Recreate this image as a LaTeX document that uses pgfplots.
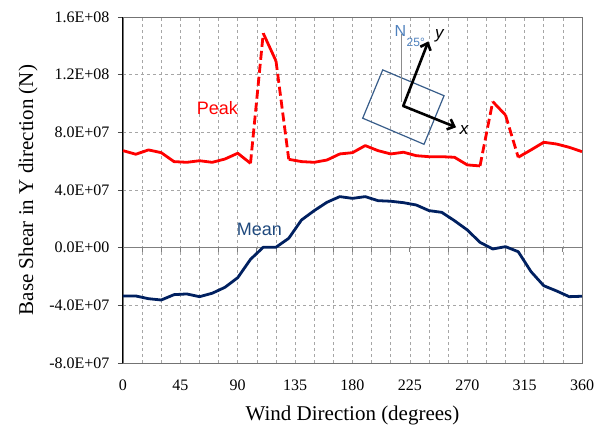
\documentclass[border=0pt]{standalone}
\usepackage{fontspec}
\setmainfont{Liberation Serif}
\newfontfamily\arial{Liberation Sans}
\usepackage{pgfplots}
\pgfplotsset{compat=1.18}
\usepackage{pgfplotstable}
\usetikzlibrary{arrows.meta}

\definecolor{peakred}{RGB}{255,0,0}
\definecolor{meannavy}{RGB}{0,32,96}
\definecolor{meantext}{RGB}{31,73,125}
\definecolor{insetblue}{RGB}{79,129,189}
\definecolor{rectblue}{RGB}{56,93,138}

% wind direction (deg), peak and mean base shear (N)
\pgfplotstableread{
dir peak mean
0   6.73e7 -3.35e7
10  6.48e7 -3.35e7
20  6.78e7 -3.54e7
30  6.59e7 -3.63e7
40  5.97e7 -3.26e7
50  5.92e7 -3.21e7
60  6.03e7 -3.40e7
70  5.92e7 -3.16e7
80  6.15e7 -2.75e7
90  6.55e7 -2.08e7
100 5.85e7 -0.81e7
110 14.87e7 0.03e7
120 12.95e7 0.03e7
130 6.13e7 0.65e7
140 5.97e7 1.92e7
150 5.92e7 2.57e7
160 6.08e7 3.15e7
170 6.50e7 3.54e7
180 6.59e7 3.42e7
190 7.08e7 3.54e7
200 6.73e7 3.26e7
210 6.50e7 3.22e7
220 6.62e7 3.12e7
230 6.38e7 2.96e7
240 6.31e7 2.57e7
250 6.31e7 2.45e7
260 6.27e7 1.87e7
270 5.74e7 1.23e7
280 5.67e7 0.37e7
290 10.13e7 -0.09e7
300 9.20e7 0.07e7
310 6.27e7 -0.28e7
320 6.78e7 -1.66e7
330 7.31e7 -2.64e7
340 7.19e7 -3.00e7
350 6.96e7 -3.40e7
360 6.66e7 -3.37e7
}\shear

\begin{document}
\begin{tikzpicture}
\begin{axis}[
  name=main,
  at={(0pt,0pt)}, anchor=south west,
  width=459pt, height=346pt, scale only axis,
  xmin=0, xmax=360, ymin=-8e7, ymax=1.6e8,
  xtick={0,45,...,360},
  minor xtick={15,30,...,345},
  ytick={-8e7,-4e7,0,4e7,8e7,1.2e8,1.6e8},
  yticklabels={-8.0E+07,-4.0E+07,0.0E+00,4.0E+07,8.0E+07,1.2E+08,1.6E+08},
  scaled y ticks=false,
  xmajorgrids, xminorgrids, ymajorgrids,
  major grid style={dash pattern=on 3pt off 3pt, black!35, line width=0.7pt},
  minor grid style={dash pattern=on 3pt off 3pt, black!35, line width=0.7pt},
  axis line style={draw=black!55, line width=0.8pt},
  xtick style={draw=none},
  minor tick length=0pt,
  ytick pos=left,
  tick align=outside,
  major tick length=5pt,
  ytick style={draw=black!70, line width=0.8pt},
  ticklabel style={font=\fontsize{16}{18}\selectfont},
  /pgf/number format/assume math mode=true,
  xticklabel style={yshift=-8pt},
  yticklabel style={anchor=east, xshift=-5pt},
  xlabel={Wind Direction (degrees)},
  ylabel={Base Shear in Y direction (N)},
  label style={font=\fontsize{21}{24}\selectfont},
  xlabel style={at={(axis description cs:0.5,-0.1503)}, anchor=center},
  ylabel style={at={(axis description cs:-0.207,0.5)}, anchor=center, rotate=0},
  clip=false,
]
\draw[black!50, line width=1pt] (axis cs:0,0) -- (axis cs:360,0);
\pgfplotsinvokeforeach{15,30,...,345}{
  \draw[black!50, line width=0.8pt] (axis cs:#1,0) -- ++(0pt,-4pt);
}
\draw[black, line width=1pt] (axis cs:0,-8e7) -- (axis cs:0,1.6e8);

% mean
\addplot[meannavy, line width=2.8pt, line join=round] table[x=dir, y=mean] {\shear};

% peak: solid and dashed pieces
\pgfplotsset{peaksolid/.style={peakred, line width=2.8pt, line join=round},
             peakdash/.style={peakred, line width=2.8pt, dash pattern=on 9pt off 4pt}}
\addplot[peaksolid, restrict x to domain=0:100]   table[x=dir, y=peak] {\shear};
\addplot[peakdash,  restrict x to domain=100:110] table[x=dir, y=peak] {\shear};
\addplot[peaksolid, restrict x to domain=110:120] table[x=dir, y=peak] {\shear};
\addplot[peakdash,  restrict x to domain=120:130] table[x=dir, y=peak] {\shear};
\addplot[peaksolid, restrict x to domain=130:280] table[x=dir, y=peak] {\shear};
\addplot[peakdash,  restrict x to domain=280:290] table[x=dir, y=peak] {\shear};
\addplot[peaksolid, restrict x to domain=290:300] table[x=dir, y=peak] {\shear};
\addplot[peakdash,  restrict x to domain=300:310] table[x=dir, y=peak] {\shear};
\addplot[peaksolid, restrict x to domain=310:360] table[x=dir, y=peak] {\shear};

\node[peakred, font=\arial\fontsize{18}{20}\selectfont] at (axis cs:74,9.67e7) {Peak};
\node[meantext, font=\arial\fontsize{18}{20}\selectfont] at (axis cs:106.9,1.28e7) {Mean};

% orientation sketch
\draw[rectblue, line width=1.2pt] (axis cs:203.7,12.33e7) -- (axis cs:251.8,10.54e7)
  -- (axis cs:236.1,7.17e7) -- (axis cs:188,8.98e7) -- cycle;
\draw[black!45, line width=1pt] (axis cs:218.6,14.85e7) -- (axis cs:218.6,10.1e7);
\draw[black, line width=2.6pt, line cap=round, -{Straight Barb[length=6pt,width=11pt]}]
  (axis cs:219.8,9.83e7) -- (axis cs:239.5,14.31e7);
\draw[black, line width=2.6pt, line cap=round, -{Straight Barb[length=6pt,width=11pt]}]
  (axis cs:219.8,9.83e7) -- (axis cs:261.2,8.35e7);
\node[insetblue, font=\arial\fontsize{16}{18}\selectfont] at (axis cs:217.5,15.03e7) {N};
\node[insetblue, font=\arial\fontsize{12}{14}\selectfont] at (axis cs:229.6,14.22e7) {25°};
\node[black, font=\arial\itshape\fontsize{17}{19}\selectfont] at (axis cs:248.1,14.68e7) {y};
\node[black, font=\arial\itshape\fontsize{17}{19}\selectfont] at (axis cs:267.5,8.16e7) {x};
\end{axis}
\useasboundingbox (-123pt,-63pt) rectangle (482pt,363pt);
\end{tikzpicture}
\end{document}
